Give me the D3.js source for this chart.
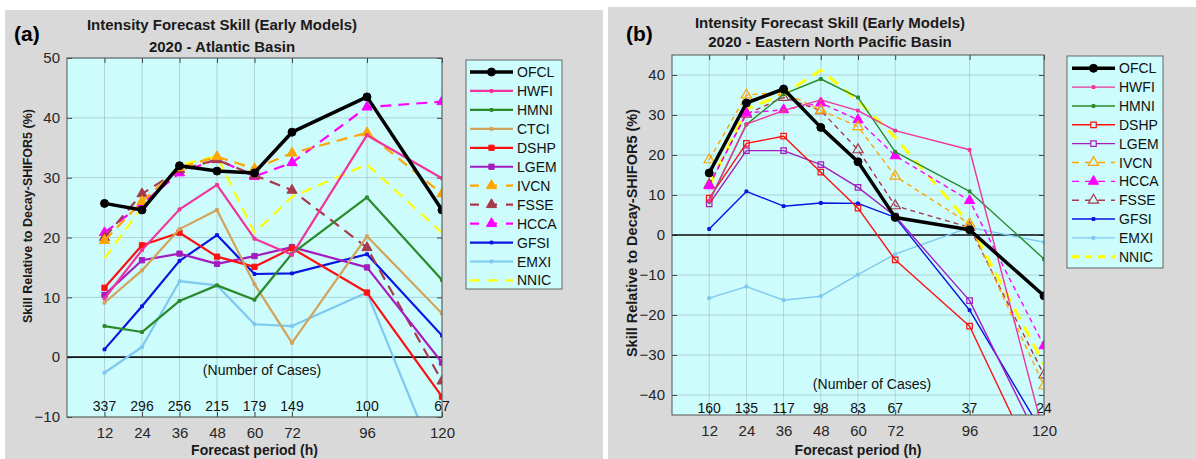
<!DOCTYPE html>
<html>
<head>
<meta charset="utf-8">
<script src="https://cdn.jsdelivr.net/npm/d3@7"></script>
<style>
  body { margin: 0; background: #fff; }
  text { font-family: "Liberation Sans", Arial, sans-serif; }
</style>
</head>
<body>
<div id="wrapper"></div>
<script>
// forecast hours + number of cases
const hours = [12, 24, 36, 48, 60, 72, 96, 120]
const casesAtl = [337, 296, 256, 215, 179, 149, 100, 67]
const casesEpac = [160, 135, 117, 98, 83, 67, 37, 24]

const yTicksAtl = [-10, 0, 10, 20, 30, 40, 50]
const yTicksEpac = [-40, -30, -20, -10, 0, 10, 20, 30, 40]

const modelsAtl = ["OFCL", "HWFI", "HMNI", "CTCI", "DSHP", "LGEM", "IVCN", "FSSE", "HCCA", "GFSI", "EMXI", "NNIC"]
const modelsEpac = ["OFCL", "HWFI", "HMNI", "DSHP", "LGEM", "IVCN", "HCCA", "FSSE", "GFSI", "EMXI", "NNIC"]

// (a) Atlantic skill values (%)
const atlOFCL = [25.7, 24.6, 32.0, 31.1, 30.8, 37.6, 43.5, 24.6]
const atlHWFI = [9.8, 17.9, 24.7, 28.8, 19.8, 17.1, 37.1, 29.9]
const atlHMNI = [5.2, 4.2, 9.4, 12.0, 9.6, 17.3, 26.7, 12.9]
const atlCTCI = [9.1, 14.5, 21.4, 24.6, 12.2, 2.4, 20.2, 7.3]
const atlDSHP = [11.6, 18.7, 20.8, 16.8, 15.1, 18.2, 10.8, -6.6]
const atlLGEM = [10.4, 16.2, 17.3, 15.6, 16.9, 18.4, 15.0, -0.9]
const atlIVCN = [19.5, 26.0, 31.7, 33.5, 31.5, 34.1, 37.5, 27.3]
const atlFSSE = [20.0, 27.3, 31.3, 33.0, 30.4, 27.9, 18.3, -4.0]
const atlHCCA = [20.8, 25.6, 30.8, 33.1, 30.2, 32.5, 41.8, 42.7]
const atlGFSI = [1.3, 8.5, 16.1, 20.4, 13.9, 14.0, 17.2, 3.6]
const atlEMXI = [-2.6, 1.7, 12.7, 12.0, 5.5, 5.2, 10.8, -20.0]
const atlNNIC = [16.5, 25.1, 32.1, 33.6, 20.8, 26.8, 32.2, 20.8]

// (b) Eastern North Pacific skill values (%)
const epOFCL = [15.5, 33.0, 36.5, 26.9, 18.3, 4.4, 1.3, -15.2]
const epHWFI = [8.5, 27.7, 31.1, 33.8, 31.1, 26.1, 21.3, -50.0]
const epHMNI = [8.3, 27.6, 35.2, 39.0, 34.4, 20.8, 10.9, -6.0]
const epDSHP = [9.2, 22.9, 24.7, 15.7, 6.7, -6.2, -22.8, -62.0]
const epLGEM = [7.8, 21.1, 21.1, 17.6, 11.9, 4.7, -16.4, -54.0]
const epIVCN = [18.8, 35.0, 35.7, 31.2, 27.1, 14.7, 2.8, -37.7]
const epHCCA = [12.3, 30.5, 31.3, 33.0, 28.8, 19.8, 8.6, -27.7]
const epFSSE = [12.6, 30.2, 34.4, 31.1, 21.3, 7.3, 1.9, -35.0]
const epGFSI = [1.5, 10.9, 7.2, 8.0, 7.9, 4.4, -18.8, -50.0]
const epEMXI = [-15.8, -12.9, -16.3, -15.3, -9.9, -4.8, 1.9, -1.8]
const epNNIC = [12.3, 31.5, 35.2, 41.2, 33.6, 24.4, 2.8, -32.3]

const valuesAtl = [atlOFCL, atlHWFI, atlHMNI, atlCTCI, atlDSHP, atlLGEM, atlIVCN, atlFSSE, atlHCCA, atlGFSI, atlEMXI, atlNNIC]
const valuesEpac = [epOFCL, epHWFI, epHMNI, epDSHP, epLGEM, epIVCN, epHCCA, epFSSE, epGFSI, epEMXI, epNNIC]

// line colours
const colors = {
    OFCL: "#000000", HWFI: "#f0349a", HMNI: "#2a8a2a", CTCI: "#d2a35a",
    DSHP: "#ff1010", LGEM: "#a41cc0", IVCN: "#ffa500", FSSE: "#a83a4e",
    HCCA: "#ff00ff", GFSI: "#0a14e0", EMXI: "#7fc8f0", NNIC: "#ffff00"
}
const markerType = {
    OFCL: "circle", HWFI: "dot", HMNI: "dot", CTCI: "dot", DSHP: "square", LGEM: "square",
    IVCN: "triangle", FSSE: "triangle", HCCA: "triangle", GFSI: "dot", EMXI: "dot", NNIC: "none"
}
const dashed = ["IVCN", "FSSE", "HCCA", "NNIC"]

const width = 1196, height = 459

const svg = d3.select("#wrapper").append("svg")
    .attr("width", width)
    .attr("height", height)

function drawPanel(p){
    const g = svg.append("g")

    g.append("rect")
        .attr("x", p.bg[0]).attr("y", p.bg[1])
        .attr("width", p.bg[2]).attr("height", p.bg[3])
        .attr("fill", "#d9d9d9")

    const xScale = d3.scaleLinear().domain([0, 120]).range([p.left, p.right])
    const yScale = d3.scaleLinear().domain(p.yDomain).range([p.bottom, p.top])

    // plot area
    g.append("rect")
        .attr("x", p.left).attr("y", p.top)
        .attr("width", p.right - p.left).attr("height", p.bottom - p.top)
        .attr("fill", "#ccfcfc")

    // grid
    g.append("g").selectAll("line.vg").data(hours).join("line")
        .attr("x1", d => xScale(d)).attr("x2", d => xScale(d))
        .attr("y1", p.top).attr("y2", p.bottom)
        .attr("stroke", "#9ebfc4").attr("stroke-width", 0.8).attr("opacity", 0.8)
    g.append("g").selectAll("line.hg").data(p.yTicks).join("line")
        .attr("x1", p.left).attr("x2", p.right)
        .attr("y1", d => yScale(d)).attr("y2", d => yScale(d))
        .attr("stroke", "#9ebfc4").attr("stroke-width", 0.8).attr("opacity", 0.8)

    // tick marks (inward, matlab style)
    const xAxis = g.append("g")
        .attr("transform", `translate(0,${p.bottom})`)
        .call(d3.axisBottom(xScale).tickValues(hours).tickSize(-5).tickPadding(10))
    const yAxis = g.append("g")
        .attr("transform", `translate(${p.left},0)`)
        .call(d3.axisLeft(yScale).tickValues(p.yTicks).tickSize(-5).tickPadding(7))
    for (const ax of [xAxis, yAxis]) {
        ax.select(".domain").remove()
        ax.selectAll(".tick line").attr("stroke", "#444")
        ax.selectAll(".tick text")
            .attr("fill", "#262626")
            .style("font-size", "15px")
            .style("font-family", "Liberation Sans, Arial, sans-serif")
    }
    // mirror ticks on top/right
    g.append("g").attr("transform", `translate(0,${p.top})`)
        .call(d3.axisTop(xScale).tickValues(hours).tickSize(-5).tickFormat(""))
        .call(a => a.select(".domain").remove())
        .selectAll("line").attr("stroke", "#444")
    g.append("g").attr("transform", `translate(${p.right},0)`)
        .call(d3.axisRight(yScale).tickValues(p.yTicks).tickSize(-5).tickFormat(""))
        .call(a => a.select(".domain").remove())
        .selectAll("line").attr("stroke", "#444")

    // zero line
    g.append("line")
        .attr("x1", p.left).attr("x2", p.right)
        .attr("y1", yScale(0)).attr("y2", yScale(0))
        .attr("stroke", "#111").attr("stroke-width", 1.6)

    // number of cases
    g.append("text")
        .attr("x", p.casesLabel[0]).attr("y", p.casesLabel[1])
        .attr("text-anchor", "middle").style("font-size", "14px").attr("fill", "#111")
        .text("(Number of Cases)")
    g.append("g").selectAll("text").data(p.cases).join("text")
        .attr("x", (d, i) => xScale(hours[i]))
        .attr("y", p.casesY)
        .attr("text-anchor", "middle").style("font-size", "14px").attr("fill", "#111")
        .text(d => d)

    // series
    const clipId = "clip-" + p.id
    svg.append("clipPath").attr("id", clipId)
        .append("rect")
        .attr("x", p.left).attr("y", p.top)
        .attr("width", p.right - p.left).attr("height", p.bottom - p.top)

    const lineGen = d3.line().x(d => xScale(d.h)).y(d => yScale(d.v))
    const series = p.models.map((m, i) => ({
        name: m,
        points: p.values[i].map((v, j) => ({h: hours[j], v: v}))
    }))
    const drawOrder = series.slice().reverse()

    const lines = g.append("g").attr("clip-path", `url(#${clipId})`)
    drawOrder.forEach(s => {
        const st = p.style(s.name)
        lines.append("path")
            .datum(s.points)
            .attr("d", lineGen)
            .attr("fill", "none")
            .attr("stroke", colors[s.name])
            .attr("stroke-width", st.width)
            .attr("stroke-dasharray", st.dash)
            .attr("stroke-linejoin", "round")
        if (st.marker !== "none") {
            lines.selectAll(null).data(s.points).join("path")
                .attr("transform", d => `translate(${xScale(d.h)},${yScale(d.v)})`)
                .attr("d", markerPath(st.marker, st.msize))
                .attr("fill", st.hollow ? "none" : colors[s.name])
                .attr("stroke", colors[s.name])
                .attr("stroke-width", st.hollow ? 1.2 : 1)
        }
    })

    // plot border
    g.append("rect")
        .attr("x", p.left).attr("y", p.top)
        .attr("width", p.right - p.left).attr("height", p.bottom - p.top)
        .attr("fill", "none").attr("stroke", "#555").attr("stroke-width", 1)

    // legend
    const lg = p.legend
    g.append("rect")
        .attr("x", lg.x).attr("y", lg.y).attr("width", lg.w).attr("height", lg.h)
        .attr("fill", "#ccfcfc").attr("stroke", "#666").attr("stroke-width", 1)
    p.models.forEach((m, i) => {
        const st = p.style(m)
        const yy = lg.first + i * lg.step
        g.append("line")
            .attr("x1", lg.lineX[0]).attr("x2", lg.lineX[1])
            .attr("y1", yy).attr("y2", yy)
            .attr("stroke", colors[m]).attr("stroke-width", st.width)
            .attr("stroke-dasharray", st.legendDash)
        if (st.marker !== "none") {
            g.append("path")
                .attr("transform", `translate(${(lg.lineX[0] + lg.lineX[1]) / 2},${yy})`)
                .attr("d", markerPath(st.marker, st.msize))
                .attr("fill", st.hollow ? "#ccfcfc" : colors[m])
                .attr("stroke", colors[m])
                .attr("stroke-width", st.hollow ? 1.2 : 1)
        }
        g.append("text")
            .attr("x", lg.textX).attr("y", yy + 5)
            .style("font-size", "14px").attr("fill", "#111")
            .text(m)
    })

    // titles
    g.append("text")
        .attr("x", p.titleX).attr("y", p.titleY[0])
        .attr("text-anchor", "middle")
        .style("font-size", "15px").style("font-weight", "bold").attr("fill", "#1a1a1a")
        .text("Intensity Forecast Skill (Early Models)")
    g.append("text")
        .attr("x", p.titleX).attr("y", p.titleY[1])
        .attr("text-anchor", "middle")
        .style("font-size", "15px").style("font-weight", "bold").attr("fill", "#1a1a1a")
        .text(p.subtitle)
    g.append("text")
        .attr("x", p.tag[0]).attr("y", p.tag[1])
        .style("font-size", "21px").style("font-weight", "bold").attr("fill", "#000")
        .text(p.tagText)

    // axis labels
    g.append("text")
        .attr("x", (p.left + p.right) / 2).attr("y", 455)
        .attr("text-anchor", "middle")
        .style("font-size", "14px").style("font-weight", "bold").attr("fill", "#1a1a1a")
        .text("Forecast period (h)")
    g.append("text")
        .attr("transform", `translate(${p.yLabel[0]},${p.yLabel[1]}) rotate(-90)`)
        .attr("text-anchor", "middle")
        .style("font-size", p.yLabelSize).style("font-weight", "bold").attr("fill", "#1a1a1a")
        .text("Skill Relative to Decay-SHIFOR5 (%)")
}

function markerPath(type, size){
    if (type === "circle") return d3.symbol(d3.symbolCircle, size)()
    if (type === "square") return d3.symbol(d3.symbolSquare, size)()
    if (type === "triangle") return d3.symbol(d3.symbolTriangle, size)()
    return d3.symbol(d3.symbolSquare, size)()
}

// panel a styling
function styleAtl(m){
    const dash = dashed.includes(m)
    return {
        width: m === "OFCL" ? 3.5 : 2.2,
        dash: dash ? "11,7" : null,
        legendDash: dash ? "9,9" : null,
        marker: markerType[m],
        msize: m === "OFCL" ? 50 : (markerType[m] === "triangle" ? 45 : (markerType[m] === "square" ? 28 : 8)),
        hollow: false
    }
}
// panel b styling
function styleEpac(m){
    const dash = dashed.includes(m)
    return {
        width: m === "OFCL" ? 3.5 : (m === "NNIC" ? 3 : 1.4),
        dash: m === "NNIC" ? "12,8" : (dash ? "5,4" : null),
        legendDash: dash ? "7,6" : null,
        marker: markerType[m],
        msize: m === "OFCL" ? 50 : (markerType[m] === "triangle" ? 45 : (markerType[m] === "square" ? 30 : 8)),
        hollow: (m === "IVCN" || m === "FSSE" || m === "DSHP" || m === "LGEM")
    }
}

drawPanel({
    id: "a", bg: [5, 10, 598, 449],
    left: 67, right: 442, top: 58, bottom: 417,
    yDomain: [-10, 50], yTicks: yTicksAtl,
    cases: casesAtl, casesY: 411, casesLabel: [262, 375],
    models: modelsAtl, values: valuesAtl, style: styleAtl,
    legend: {x: 466, y: 60, w: 96, h: 229, first: 72, step: 18.95, lineX: [470, 513], textX: 517},
    titleX: 222, titleY: [30, 52], subtitle: "2020 - Atlantic Basin",
    tag: [14, 41], tagText: "(a)",
    yLabel: [32, 216], yLabelSize: "12.5px"
})

drawPanel({
    id: "b", bg: [608, 7, 588, 452],
    left: 672, right: 1044, top: 55, bottom: 415,
    yDomain: [-45, 45], yTicks: yTicksEpac,
    cases: casesEpac, casesY: 413, casesLabel: [872, 389],
    models: modelsEpac, values: valuesEpac, style: styleEpac,
    legend: {x: 1067, y: 56, w: 96, h: 212, first: 68.3, step: 18.84, lineX: [1072, 1115], textX: 1119},
    titleX: 830, titleY: [28, 47], subtitle: "2020 - Eastern North Pacific Basin",
    tag: [626, 41], tagText: "(b)",
    yLabel: [637, 233], yLabelSize: "14.5px"
})
</script>
</body>
</html>
